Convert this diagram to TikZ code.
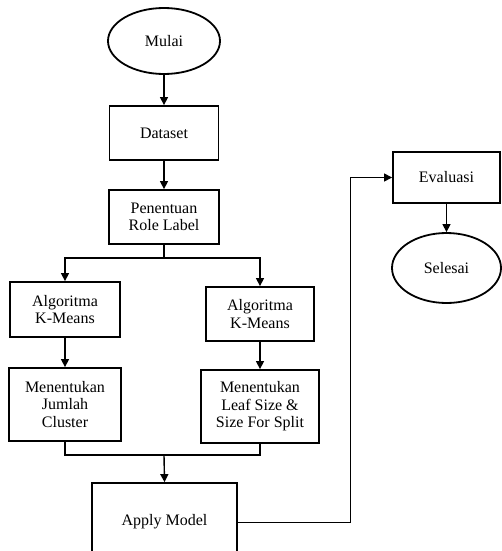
\documentclass[tikz,border=0pt]{standalone}
\usepackage{fontspec}
\setmainfont{Liberation Serif}
\usetikzlibrary{shapes.geometric,arrows.meta}
\begin{document}
\begin{tikzpicture}[x=1pt,y=-1pt,
  every node/.style={font=\fontsize{16}{17.5}\selectfont, align=center, inner sep=0pt},
  box/.style={draw, line width=1.8pt, rectangle},
  oval/.style={draw, line width=1.8pt, ellipse},
  conn/.style={line width=1.4pt, -{Triangle[length=8pt,width=8pt]}},
  plain/.style={line width=1.4pt},
  thin conn/.style={line width=1pt, -{Triangle[length=8pt,width=8pt]}}]
\useasboundingbox (0,0) rectangle (502,551);
\node[oval, minimum width=112pt, minimum height=66pt] (mulai) at (164,41) {Mulai};
\node[box, minimum width=109pt, minimum height=54pt] (data) at (164,133) {Dataset};
\node[box, minimum width=110pt, minimum height=54pt] (pen) at (164,217) {Penentuan\\Role Label};
\node[box, minimum width=110pt, minimum height=55pt] (alg1) at (65,309.5) {Algoritma\\K-Means};
\node[box, minimum width=112pt, minimum height=73pt] (jml) at (65,404.5) {Menentukan\\Jumlah\\Cluster};
\node[box, minimum width=108pt, minimum height=54pt] (alg2) at (260,314) {Algoritma\\K-Means};
\node[box, minimum width=118pt, minimum height=73pt] (leaf) at (260,406.5) {Menentukan\\Leaf Size \&\\Size For Split};
\node[box, minimum width=145pt, minimum height=78pt] (apply) at (164.5,522) {Apply Model};
\node[box, minimum width=107pt, minimum height=51pt] (eval) at (446.5,177.5) {Evaluasi};
\node[oval, minimum width=109pt, minimum height=70pt] (selesai) at (446.5,268) {Selesai};
\coordinate (split) at (164,258);
\coordinate (merge) at (164,455);
\coordinate (turnx) at (350,0);
\draw[conn] (mulai.south) -- (data.north);
\draw[conn] (data.south) -- (pen.north);
\draw[plain] (pen.south) -- (split);
\draw[conn] (split) -| (alg1.north);
\draw[conn] (split) -| (alg2.north);
\draw[conn] (alg1.south) -- (jml.north);
\draw[conn] (alg2.south) -- (leaf.north);
\draw[plain] (jml.south) |- (merge) -| (leaf.south);
\draw[conn] (merge) -- (apply.north);
\draw[thin conn] (apply.east) -- (apply.east -| turnx) |- (eval.west);
\draw[conn] (eval.south) -- (selesai.north);
\end{tikzpicture}
\end{document}
